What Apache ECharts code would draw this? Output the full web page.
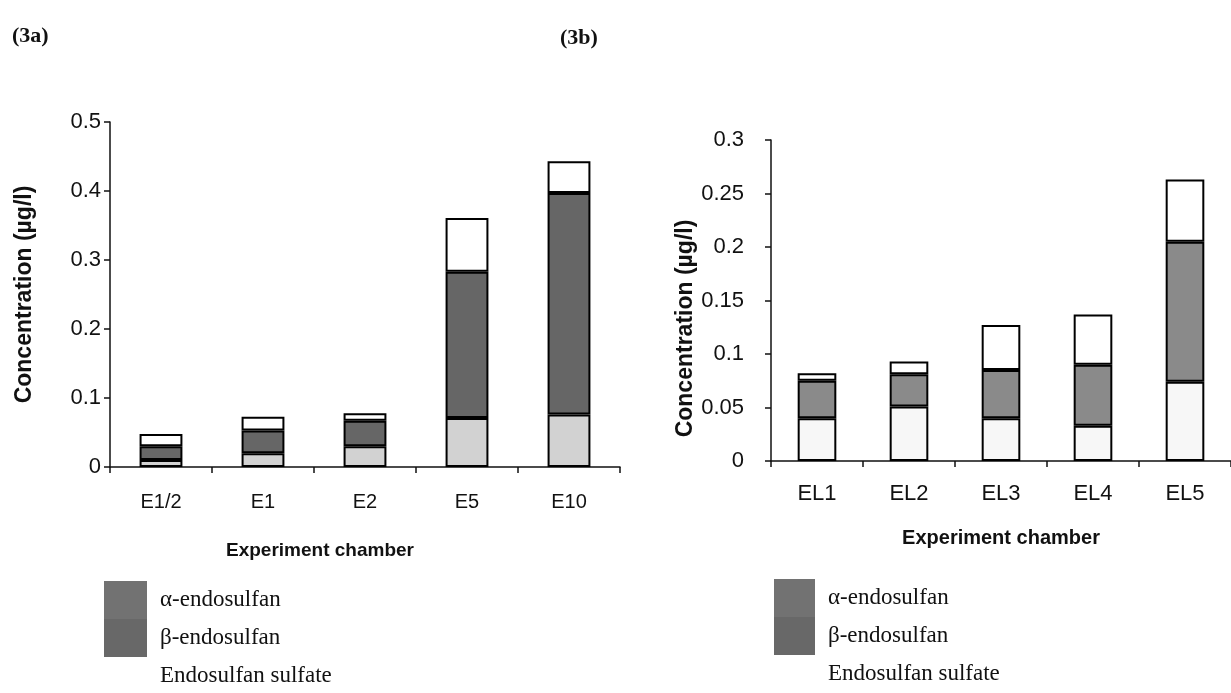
<!DOCTYPE html>
<html>
<head>
<meta charset="utf-8">
<script src="https://cdn.jsdelivr.net/npm/echarts@6/dist/echarts.min.js"></script>
<style>
html,body{margin:0;padding:0;background:#fff;}
#c{width:1231px;height:693px;}
</style>
</head>
<body>
<div id="c"></div>
<script>
// ---- data ----
const seriesNames = ['α-endosulfan', 'β-endosulfan', 'Endosulfan sulfate'];

const catsA = ['E1/2', 'E1', 'E2', 'E5', 'E10'];
const alphaA   = [0.010, 0.020, 0.030, 0.071, 0.076];
const betaA    = [0.020, 0.033, 0.037, 0.212, 0.321];
const sulfateA = [0.018, 0.020, 0.011, 0.078, 0.046];

const catsB = ['EL1', 'EL2', 'EL3', 'EL4', 'EL5'];
const alphaB   = [0.040, 0.051, 0.040, 0.033, 0.074];
const betaB    = [0.035, 0.030, 0.045, 0.057, 0.131];
const sulfateB = [0.007, 0.012, 0.042, 0.047, 0.058];

const yTicksA = {min: 0, max: 0.5, interval: 0.1};
const yTicksB = {min: 0, max: 0.3, interval: 0.05};

// ---- styles ----
const sans = 'Liberation Sans, Arial, sans-serif';
const serif = 'Liberation Serif, Times New Roman, serif';
const ink = '#111';

function bar(name, data, idx, color) {
  return {
    name: name, type: 'bar', stack: 's' + idx,
    xAxisIndex: idx, yAxisIndex: idx,
    data: data, barWidth: '42%',
    itemStyle: {color: color, borderColor: '#000', borderWidth: 2},
    emphasis: {disabled: true}
  };
}

function xAxis(idx, cats, fs, margin, gap, nameFs, namePad) {
  return {
    type: 'category', gridIndex: idx, data: cats,
    axisLine: {lineStyle: {color: ink, width: 1.5}},
    axisTick: {show: true, length: 6, lineStyle: {color: ink, width: 1.5}},
    axisLabel: {color: ink, fontSize: fs, fontFamily: sans, margin: margin},
    name: 'Experiment chamber', nameLocation: 'middle', nameGap: gap,
    nameTextStyle: {color: ink, fontSize: nameFs, fontWeight: 'bold', fontFamily: sans, padding: namePad}
  };
}

function yAxis(idx, t, margin, gap, namePad) {
  return {
    type: 'value', gridIndex: idx, min: t.min, max: t.max, interval: t.interval,
    axisLine: {show: true, lineStyle: {color: ink, width: 1.5}},
    axisTick: {show: true, length: 6, lineStyle: {color: ink, width: 1.5}},
    splitLine: {show: false},
    axisLabel: {color: ink, fontSize: 22, fontFamily: sans, margin: margin},
    name: 'Concentration (µg/l)', nameLocation: 'middle', nameGap: gap,
    nameTextStyle: {color: ink, fontSize: 23, fontWeight: 'bold', fontFamily: sans, padding: namePad}
  };
}

function legend(left, top, w) {
  return {
    orient: 'vertical', left: left, top: top, height: 120,
    itemWidth: w, itemHeight: 38, itemGap: 0, icon: 'rect',
    selectedMode: false, padding: 0,
    textStyle: {color: ink, fontSize: 23, fontFamily: serif, padding: [0, 0, 0, 8]},
    data: [
      {name: seriesNames[0], itemStyle: {color: '#727272', borderWidth: 0}},
      {name: seriesNames[1], itemStyle: {color: '#686868', borderWidth: 0}},
      {name: seriesNames[2], itemStyle: {color: '#ffffff', borderWidth: 0}}
    ]
  };
}

const chart = echarts.init(document.getElementById('c'), null, {renderer: 'canvas'});
chart.setOption({
  backgroundColor: '#fff',
  animation: false,
  title: [
    {text: '(3a)', left: 7, top: 20, textStyle: {fontFamily: serif, fontSize: 22, fontWeight: 'bold', color: ink}},
    {text: '(3b)', left: 555, top: 22, textStyle: {fontFamily: serif, fontSize: 22, fontWeight: 'bold', color: ink}}
  ],
  legend: [legend(104, 581, 43), legend(774, 579, 41)],
  grid: [
    {left: 110, top: 122, width: 510, height: 345},
    {left: 771, top: 140, width: 462, height: 321}
  ],
  xAxis: [xAxis(0, catsA, 20, 25, 74, 19, [0, 90, 0, 0]), xAxis(1, catsB, 22, 22, 67, 20, 0)],
  yAxis: [yAxis(0, yTicksA, 9, 74, 0), yAxis(1, yTicksB, 27, 67, [0, 56, 0, 0])],
  series: [
    bar(seriesNames[0], alphaA, 0, '#d2d2d2'),
    bar(seriesNames[1], betaA, 0, '#666666'),
    bar(seriesNames[2], sulfateA, 0, '#ffffff'),
    bar(seriesNames[0], alphaB, 1, '#f7f7f7'),
    bar(seriesNames[1], betaB, 1, '#8a8a8a'),
    bar(seriesNames[2], sulfateB, 1, '#ffffff')
  ]
});
</script>
</body>
</html>
